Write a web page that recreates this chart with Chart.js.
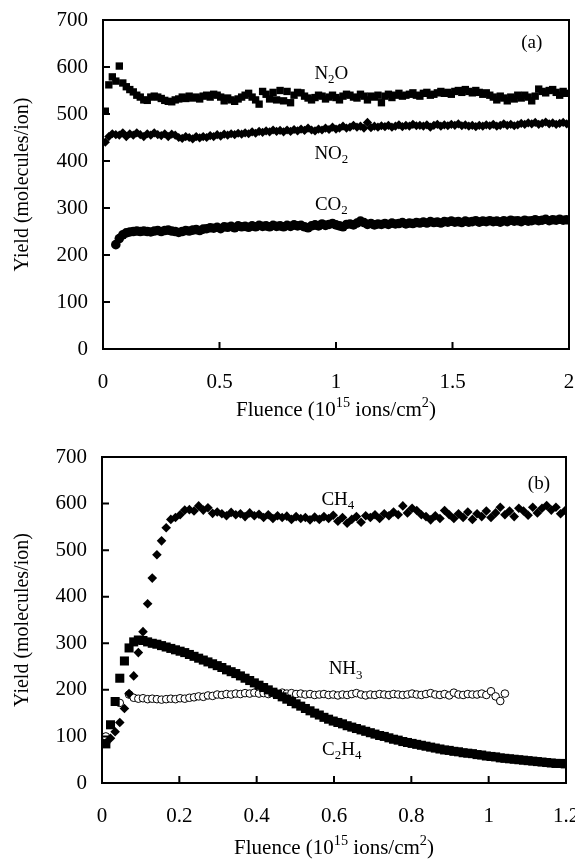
<!DOCTYPE html>
<html>
<head>
<meta charset="utf-8">
<script src="https://cdn.jsdelivr.net/npm/chart.js@4"></script>
<style>
  body { margin: 0; background: #fff; }
  #wrap { position: relative; width: 575px; height: 862px; }
  canvas { position: absolute; left: 0; }
</style>
</head>
<body>
<div id="wrap">
  <canvas id="chart_a" width="575" height="430" style="top:0"></canvas>
  <canvas id="chart_b" width="575" height="432" style="top:430px"></canvas>
</div>
<script>
// panel (a) : fluence in 10^15 ions/cm2, yields in molecules/ion
const fluence_a = [
  0.010, 0.025, 0.040, 0.055, 0.070, 0.085, 0.100, 0.115, 0.130, 0.145,
  0.160, 0.175, 0.190, 0.205, 0.220, 0.235, 0.250, 0.265, 0.280, 0.295,
  0.310, 0.325, 0.340, 0.355, 0.370, 0.385, 0.400, 0.415, 0.430, 0.445,
  0.460, 0.475, 0.490, 0.505, 0.520, 0.535, 0.550, 0.565, 0.580, 0.595,
  0.610, 0.625, 0.640, 0.655, 0.670, 0.685, 0.700, 0.715, 0.730, 0.745,
  0.760, 0.775, 0.790, 0.805, 0.820, 0.835, 0.850, 0.865, 0.880, 0.895,
  0.910, 0.925, 0.940, 0.955, 0.970, 0.985, 1.000, 1.015, 1.030, 1.045,
  1.060, 1.075, 1.090, 1.105, 1.120, 1.135, 1.150, 1.165, 1.180, 1.195,
  1.210, 1.225, 1.240, 1.255, 1.270, 1.285, 1.300, 1.315, 1.330, 1.345,
  1.360, 1.375, 1.390, 1.405, 1.420, 1.435, 1.450, 1.465, 1.480, 1.495,
  1.510, 1.525, 1.540, 1.555, 1.570, 1.585, 1.600, 1.615, 1.630, 1.645,
  1.660, 1.675, 1.690, 1.705, 1.720, 1.735, 1.750, 1.765, 1.780, 1.795,
  1.810, 1.825, 1.840, 1.855, 1.870, 1.885, 1.900, 1.915, 1.930, 1.945,
  1.960, 1.975, 1.990
];
const n2o_yield = [
  506, 562, 579, 570, 602, 566, 558, 552, 547, 540,
  536, 530, 529, 536, 538, 536, 533, 529, 527, 526,
  530, 532, 536, 533, 538, 534, 536, 532, 538, 540,
  536, 542, 540, 536, 528, 534, 530, 527, 532, 536,
  540, 544, 536, 530, 521, 548, 542, 532, 546, 530,
  550, 528, 548, 524, 540, 546, 545, 538, 534, 530,
  535, 540, 538, 532, 536, 540, 535, 530, 538, 542,
  540, 536, 534, 542, 538, 530, 538, 536, 540, 524,
  538, 542, 535, 540, 544, 538, 540, 542, 545, 540,
  538, 544, 546, 540, 542, 545, 548, 544, 546, 542,
  548, 550, 546, 552, 548, 545, 550, 546, 542, 545,
  540, 536, 530, 538, 534, 528, 536, 532, 540, 534,
  540, 536, 528, 538, 553, 548, 545, 550, 552, 546,
  540, 548, 544
];
const no2_yield = [
  440, 452, 458, 456, 455, 460, 452, 458, 455, 460,
  456, 452, 458, 455, 460, 456, 454, 458, 452, 457,
  455, 450, 448, 452, 450, 447, 452, 449, 452, 450,
  454, 452, 456, 453, 457, 455, 458, 456, 459, 457,
  460, 458, 462, 459, 463, 461, 464, 462, 466, 463,
  465, 462, 466, 463, 467, 464, 468, 465, 470, 466,
  464, 468, 466, 470, 467, 472, 468, 470, 474, 470,
  472, 476, 472, 474, 470, 482, 471, 474, 472, 475,
  473, 476, 472, 474, 477, 473, 476, 474, 478, 475,
  476, 474, 477, 472, 476, 478, 474, 477, 475, 478,
  476, 479, 475, 477, 474, 476, 473, 476, 474, 477,
  475, 478, 474, 476, 479, 476, 478, 475, 477, 480,
  478, 481, 479, 482, 478, 480, 483, 479, 481, 478,
  480, 482, 479
];
const co2_yield = [
  null, null, null, 222, 235, 243, 247, 249, 250, 251,
  250, 251, 250, 249, 251, 252, 250, 252, 253, 251,
  250, 248, 250, 252, 251, 253, 254, 252, 255, 256,
  258, 257, 259, 256, 260, 259, 261, 258, 262, 260,
  261, 259, 262, 260, 263, 261, 262, 260, 263, 261,
  262, 260, 263, 261, 264, 262, 263, 260, 258, 262,
  264, 262, 266, 263, 265, 267, 264, 262, 260, 265,
  266, 264, 268, 272, 269, 265, 267, 264, 266, 265,
  267, 265, 268, 266, 267, 269, 266, 268, 267, 269,
  268, 270, 268, 271, 269, 270, 268, 271, 270, 272,
  270, 271, 269, 272, 270, 271, 273, 270, 272, 271,
  273, 271, 272, 270, 273, 271, 274, 272, 273, 271,
  274, 272, 273, 275, 273, 274, 276, 273, 275, 274,
  276, 274, 275
];

// panel (b)
const fluence_b = [
  0.010, 0.022, 0.034, 0.046, 0.058, 0.070, 0.082, 0.094, 0.106, 0.118,
  0.130, 0.142, 0.154, 0.166, 0.178, 0.190, 0.202, 0.214, 0.226, 0.238,
  0.250, 0.262, 0.274, 0.286, 0.298, 0.310, 0.322, 0.334, 0.346, 0.358,
  0.370, 0.382, 0.394, 0.406, 0.418, 0.430, 0.442, 0.454, 0.466, 0.478,
  0.490, 0.502, 0.514, 0.526, 0.538, 0.550, 0.562, 0.574, 0.586, 0.598,
  0.610, 0.622, 0.634, 0.646, 0.658, 0.670, 0.682, 0.694, 0.706, 0.718,
  0.730, 0.742, 0.754, 0.766, 0.778, 0.790, 0.802, 0.814, 0.826, 0.838,
  0.850, 0.862, 0.874, 0.886, 0.898, 0.910, 0.922, 0.934, 0.946, 0.958,
  0.970, 0.982, 0.994, 1.006, 1.018, 1.030, 1.042, 1.054, 1.066, 1.078,
  1.090, 1.102, 1.114, 1.126, 1.138, 1.150, 1.162, 1.174, 1.186, 1.198
];
const ch4_yield = [
  86, 96, 110, 130, 160, 192, 230, 280, 325, 385,
  440, 490, 520, 548, 566, 570, 576, 586, 587, 584,
  595, 586, 591, 579, 582, 578, 574, 581, 576, 578,
  572, 580, 574, 577, 570, 576, 568, 574, 570, 573,
  566, 572, 568, 570, 565, 571, 566, 572, 568, 575,
  562, 570, 558, 566, 572, 560, 574, 570, 576, 568,
  578, 574, 582, 576, 595, 580, 590, 585, 576, 572,
  565, 574, 568, 585, 576, 568, 578, 570, 582, 566,
  578, 572, 584, 570, 580, 592, 576, 584, 572, 590,
  584, 575, 592, 580, 590, 596, 586, 592, 578, 585
];
const c2h4_yield = [
  84, 125, 175, 225, 262, 290, 303, 307, 306, 303,
  300, 298, 295, 292, 289, 286, 283, 280, 276, 272,
  268, 264, 260, 256, 252, 248, 243, 239, 235, 230,
  225, 220, 215, 210, 205, 200, 195, 190, 185, 180,
  175, 170, 165, 160, 155, 150, 146, 141, 137, 133,
  130, 127, 123, 120, 117, 114, 111, 108, 105, 102,
  100, 97, 94, 92, 89, 87, 85, 83, 81, 79,
  77, 75, 73, 71, 70, 68, 67, 65, 64, 63,
  61, 60, 58, 57, 56, 54, 53, 52, 51, 50,
  49, 48, 47, 46, 45, 44, 43, 42, 42, 41
];
const nh3_yield = [
  100, null, null, 172, null, 190, 183, 181, 182, 180,
  181, 180, 179, 180, 181, 180, 182, 181, 183, 184,
  186, 185, 188, 187, 190, 189, 191, 190, 192, 191,
  193, 192, 194, 192, 193, 191, 193, 192, 194, 192,
  193, 191, 192, 190, 191, 189, 190, 191, 189, 190,
  188, 190, 189, 191, 193, 190, 188, 190, 189, 191,
  190, 189, 191, 190, 189, 190, 192, 190, 189, 191,
  193, 190, 189, 191, 188, 194, 190, 189, 191, 190,
  190, 192, 189, 197, 186, 176, 192, null, null, null,
  null, null, null, null, null, null, null, null, null, null
];

const x_ticks_a = [0, 0.5, 1, 1.5, 2];
const x_ticks_b = [0, 0.2, 0.4, 0.6, 0.8, 1, 1.2];
const y_ticks = [0, 100, 200, 300, 400, 500, 600, 700];

// text labels: parts [text, 0 normal / -1 sub / 1 sup], anchored at data coords (baseline centre)
const labels_a = [
  { parts: [['(a)', 0]], x: 1.84, y: 640 },
  { parts: [['N', 0], ['2', -1], ['O', 0]], x: 0.98, y: 574 },
  { parts: [['NO', 0], ['2', -1]], x: 0.98, y: 405 },
  { parts: [['CO', 0], ['2', -1]], x: 0.98, y: 296 }
];
const labels_b = [
  { parts: [['(b)', 0]], x: 1.13, y: 632 },
  { parts: [['CH', 0], ['4', -1]], x: 0.61, y: 597 },
  { parts: [['NH', 0], ['3', -1]], x: 0.63, y: 233 },
  { parts: [['C', 0], ['2', -1], ['H', 0], ['4', -1]], x: 0.62, y: 60 }
];
const x_title = [['Fluence (10', 0], ['15', 1], [' ions/cm', 0], ['2', 1], [')', 0]];
const y_title = 'Yield (molecules/ion)';

const FONT = '"Liberation Serif", "Times New Roman", serif';

function to_points(xs, ys) {
  return xs.map((x, i) => ({ x: x, y: ys[i] })).filter(p => p.y !== null);
}

function draw_rich(ctx, parts, cx, base, size) {
  let total = 0;
  parts.forEach(([t, m]) => {
    ctx.font = (m ? size * 0.68 : size) + 'px ' + FONT;
    total += ctx.measureText(t).width;
  });
  let x = cx - total / 2;
  ctx.textAlign = 'left';
  ctx.textBaseline = 'alphabetic';
  parts.forEach(([t, m]) => {
    ctx.font = (m ? size * 0.68 : size) + 'px ' + FONT;
    const dy = m === -1 ? size * 0.22 : (m === 1 ? -size * 0.42 : 0);
    ctx.fillText(t, x, base + dy);
    x += ctx.measureText(t).width;
  });
}

const frame_plugin = {
  id: 'frame_plugin',
  afterDraw(chart, args, opts) {
    const { ctx, chartArea: a, scales: { x, y } } = chart;
    ctx.save();
    ctx.strokeStyle = '#000';
    ctx.fillStyle = '#000';
    ctx.lineWidth = 2;
    ctx.strokeRect(a.left, a.top, a.right - a.left, a.bottom - a.top);
    ctx.beginPath();
    x.ticks.forEach(t => {
      const px = x.getPixelForValue(t.value);
      ctx.moveTo(px, a.bottom);
      ctx.lineTo(px, a.bottom - 7);
    });
    y.ticks.forEach(t => {
      const py = y.getPixelForValue(t.value);
      ctx.moveTo(a.left, py);
      ctx.lineTo(a.left + 7, py);
    });
    ctx.stroke();

    opts.labels.forEach(l => {
      draw_rich(ctx, l.parts, x.getPixelForValue(l.x), y.getPixelForValue(l.y), 19);
    });

    // axis titles
    draw_rich(ctx, x_title, (a.left + a.right) / 2, a.bottom + opts.x_title_gap, 21);
    ctx.save();
    ctx.translate(28, (a.top + a.bottom) / 2);
    ctx.rotate(-Math.PI / 2);
    ctx.font = '20px ' + FONT;
    ctx.textAlign = 'center';
    ctx.textBaseline = 'alphabetic';
    ctx.fillText(y_title, 0, 0);
    ctx.restore();
    ctx.restore();
  }
};

function make_chart(id, datasets, x_max, x_ticks, pad, x_axis_h, labels, x_title_gap) {
  const ctx = document.getElementById(id).getContext('2d');
  return new Chart(ctx, {
    type: 'scatter',
    data: { datasets: datasets },
    options: {
      responsive: false,
      animation: false,
      devicePixelRatio: 1,
      layout: { padding: pad },
      plugins: {
        legend: { display: false },
        tooltip: { enabled: false },
        frame_plugin: { labels: labels, x_title_gap: x_title_gap }
      },
      scales: {
        x: {
          type: 'linear',
          min: 0,
          max: x_max,
          afterBuildTicks: s => { s.ticks = x_ticks.map(v => ({ value: v })); },
          afterFit: s => { s.height = x_axis_h; s.paddingLeft = 0; s.paddingRight = 0; },
          grid: { display: false, drawTicks: false },
          border: { display: false },
          ticks: {
            color: '#000',
            padding: 21,
            maxRotation: 0,
            font: { family: FONT, size: 21 },
            callback: v => String(v)
          }
        },
        y: {
          min: 0,
          max: 700,
          afterBuildTicks: s => { s.ticks = y_ticks.map(v => ({ value: v })); },
          afterFit: s => { s.width = pad.yw; s.paddingTop = 0; s.paddingBottom = 0; },
          grid: { display: false, drawTicks: false },
          border: { display: false },
          ticks: {
            color: '#000',
            padding: 15,
            font: { family: FONT, size: 21 },
            callback: v => String(v)
          }
        }
      }
    },
    plugins: [frame_plugin]
  });
}

let chart_a = make_chart('chart_a', [
  {
    label: 'CO2', data: to_points(fluence_a, co2_yield),
    pointStyle: 'circle', pointRadius: 4.8, backgroundColor: '#000', borderColor: '#000', borderWidth: 0
  },
  {
    label: 'NO2', data: to_points(fluence_a, no2_yield),
    pointStyle: 'rectRot', pointRadius: 4.6, backgroundColor: '#000', borderColor: '#000', borderWidth: 0
  },
  {
    label: 'N2O', data: to_points(fluence_a, n2o_yield),
    pointStyle: 'rect', pointRadius: 5.2, backgroundColor: '#000', borderColor: '#000', borderWidth: 0
  }
], 2, x_ticks_a, { top: 20, right: 6, left: 0, bottom: 0, yw: 103 }, 81, labels_a, 67);

let chart_b = make_chart('chart_b', [
  {
    label: 'C2H4', data: to_points(fluence_b, c2h4_yield),
    pointStyle: 'rect', pointRadius: 6.4, backgroundColor: '#000', borderColor: '#000', borderWidth: 0
  },
  {
    label: 'CH4', data: to_points(fluence_b, ch4_yield),
    pointStyle: 'rectRot', pointRadius: 4.8, backgroundColor: '#000', borderColor: '#000', borderWidth: 0
  },
  {
    label: 'NH3', data: to_points(fluence_b, nh3_yield),
    pointStyle: 'circle', pointRadius: 3.8, backgroundColor: '#fff', borderColor: '#000', borderWidth: 1
  }
], 1.2, x_ticks_b, { top: 27, right: 9, left: 0, bottom: 0, yw: 102 }, 79, labels_b, 71);
</script>
</body>
</html>
